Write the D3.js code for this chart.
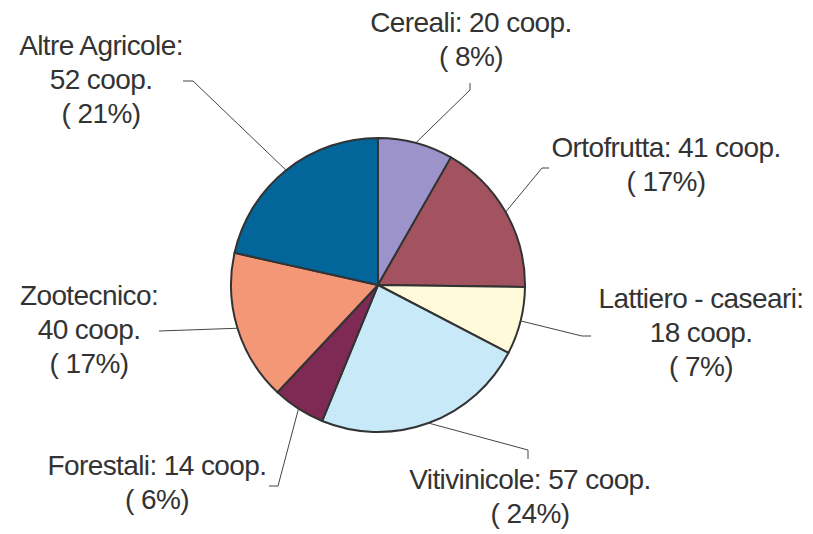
<!DOCTYPE html>
<html>
<head>
<meta charset="utf-8">
<script src="https://cdn.jsdelivr.net/npm/d3@7"></script>
<style>
  html, body { margin: 0; padding: 0; background: #fff; }
  svg { display: block; }
  text { font-family: "Liberation Sans", Arial, sans-serif; font-size: 28px; fill: #333; letter-spacing: -0.6px; }
</style>
</head>
<body>
<svg id="chart" width="813" height="534"></svg>
<script>
// ---- data ----
const categories = ["Cereali", "Ortofrutta", "Lattiero - caseari", "Vitivinicole", "Forestali", "Zootecnico", "Altre Agricole"];
const values = [20, 41, 18, 57, 14, 40, 52];
const percents = [8, 17, 7, 24, 6, 17, 21];
const colors = ["#9B93C9", "#A35360", "#FFFAD9", "#C8E9F8", "#7F2A55", "#F49777", "#03669A"];

// ---- layout (label lines and leader-line elbows, in pixels) ----
const labelLines = [
  ["Cereali: 20 coop.", "( 8%)"],
  ["Ortofrutta: 41 coop.", "( 17%)"],
  ["Lattiero - caseari:", "18 coop.", "( 7%)"],
  ["Vitivinicole: 57 coop.", "( 24%)"],
  ["Forestali: 14 coop.", "( 6%)"],
  ["Zootecnico:", "40 coop.", "( 17%)"],
  ["Altre Agricole:", "52 coop.", "( 21%)"]
];
const labelPos = [
  {x: 471, y: 32},
  {x: 666, y: 157},
  {x: 701, y: 308},
  {x: 530, y: 489},
  {x: 157, y: 475},
  {x: 89, y: 305},
  {x: 101, y: 55}
];
const lineGap = 34;
const leaders = [
  [[470, 90], [470, 83]],
  [[542, 168], [549, 168]],
  [[582, 336], [591, 336]],
  [[528, 450], [528, 459]],
  [[278, 486], [269, 486]],
  [[159, 331]],
  [[193, 81], [183, 81]]
];

const cx = 378, cy = 285, r = 147;
const svg = d3.select("#chart");
const g = svg.append("g").attr("transform", `translate(${cx},${cy})`);

const pie = d3.pie().value(d => d).sort(null);
const arcs = pie(values);
const arc = d3.arc().innerRadius(0).outerRadius(r);

// leader lines
const line = d3.line();
arcs.forEach((a, i) => {
  const mid = (a.startAngle + a.endAngle) / 2;
  const p0 = [cx + r * Math.sin(mid), cy - r * Math.cos(mid)];
  svg.append("path")
    .attr("d", line([p0, ...leaders[i]]))
    .attr("fill", "none")
    .attr("stroke", "#444")
    .attr("stroke-width", 1);
});

g.selectAll("path.slice")
  .data(arcs)
  .enter().append("path")
  .attr("class", "slice")
  .attr("d", arc)
  .attr("fill", (d, i) => colors[i])
  .attr("stroke", "#333")
  .attr("stroke-width", 2)
  .attr("stroke-linejoin", "round");

// labels
labelLines.forEach((lines, i) => {
  const t = svg.append("text")
    .attr("text-anchor", "middle")
    .attr("x", labelPos[i].x)
    .attr("y", labelPos[i].y);
  lines.forEach((s, j) => {
    t.append("tspan")
      .attr("x", labelPos[i].x)
      .attr("y", labelPos[i].y + j * lineGap)
      .text(s);
  });
});
</script>
</body>
</html>
